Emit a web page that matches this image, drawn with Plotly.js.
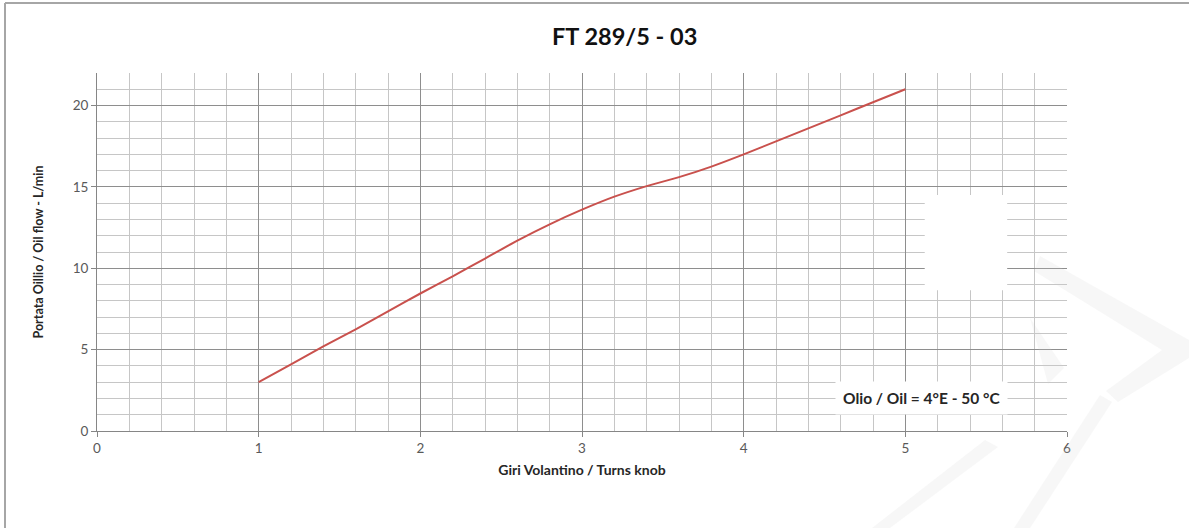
<!DOCTYPE html>
<html>
<head>
<meta charset="utf-8">
<script src="https://cdn.plot.ly/plotly-3.0.1.min.js"></script>
<style>html,body{margin:0;padding:0;background:#fff;}#chart{width:1189px;height:528px;}</style>
</head>
<body>
<div id="chart"></div>
<script>
// Data
const turns = [1, 1.2, 1.4, 1.6, 1.8, 2, 2.2, 2.4, 2.6, 2.8, 3, 3.2, 3.4, 3.6, 3.8, 4, 4.2, 4.4, 4.6, 4.8, 5];
const oilFlow = [3.0, 4.1, 5.2, 6.25, 7.35, 8.45, 9.5, 10.6, 11.7, 12.7, 13.6, 14.4, 15.05, 15.6, 16.25, 17.0, 17.8, 18.6, 19.4, 20.2, 21.0];
const xTicks = [0, 1, 2, 3, 4, 5, 6];
const yTicks = [0, 5, 10, 15, 20];

const chartTitle = 'FT 289/5 - 03';
const xTitle = 'Giri Volantino / Turns knob';
const yTitle = 'Portata Oillio / Oil flow - L/min';
const noteText = 'Olio / Oil = 4°E - 50 °C';

const trace = {
  x: turns, y: oilFlow, type: 'scatter', mode: 'lines',
  line: {color: '#c9514d', width: 2, shape: 'spline', smoothing: 0.8},
  hoverinfo: 'x+y', showlegend: false
};

const font = 'Lato, "Open Sans", "Liberation Sans", sans-serif';

// plot area geometry (pixels) used only to place decorative watermark / frame in paper units
const M = {l: 97, r: 122, t: 73, b: 97};
const W = 1189, H = 528;
const pw = W - M.l - M.r, ph = H - M.t - M.b;
const px = v => (v - M.l) / pw;
const py = v => (H - M.b - v) / ph;
const polyPath = pts => 'M ' + pts.map(p => px(p[0]).toFixed(4) + ',' + py(p[1]).toFixed(4)).join(' L ') + ' Z';

const wmFill = 'rgba(205,205,205,0.17)';
const watermark = [
  [[1040,256],[1189,340],[1189,358],[1118,402],[1106,391],[1162,350],[1034,271]],
  [[1100,395],[1112,402],[1030,528],[1014,528]],
  [[1030,318],[1064,368],[1048,384]],
  [[985,440],[998,447],[890,528],[872,528]]
].map(p => ({type: 'path', xref: 'paper', yref: 'paper', path: polyPath(p),
             fillcolor: wmFill, line: {width: 0}, layer: 'above'}));

const layout = {
  width: W, height: H,
  margin: M,
  paper_bgcolor: '#ffffff', plot_bgcolor: '#ffffff',
  font: {family: font, color: '#595959', size: 13},
  title: {text: '<b>' + chartTitle + '</b>', x: 0.544, xanchor: 'center', xref: 'paper',
          y: 0.93, yanchor: 'middle', yref: 'container',
          font: {family: font, size: 23.5, color: '#111111'}},
  xaxis: {
    range: [0, 6], tickvals: xTicks, ticktext: xTicks.map(String),
    showgrid: true, gridcolor: '#8e8e8e', gridwidth: 1,
    minor: {dtick: 0.2, tick0: 0, showgrid: true, gridcolor: '#c6c6c6', gridwidth: 1},
    showline: true, linecolor: '#868686', linewidth: 1,
    ticks: 'outside', ticklen: 5, tickcolor: '#868686',
    zeroline: false, fixedrange: true,
    tickfont: {family: font, size: 13.5, color: '#595959'},
    title: {text: '<b>' + xTitle + '</b>', standoff: 9, font: {family: font, size: 14, color: '#262626'}}
  },
  yaxis: {
    range: [0, 22], tickvals: yTicks, ticktext: yTicks.map(String),
    showgrid: true, gridcolor: '#8e8e8e', gridwidth: 1,
    minor: {dtick: 1, tick0: 0, showgrid: true, gridcolor: '#c6c6c6', gridwidth: 1},
    showline: true, linecolor: '#868686', linewidth: 1,
    ticks: 'outside', ticklen: 5, tickcolor: '#868686',
    zeroline: false, fixedrange: true,
    tickfont: {family: font, size: 13.5, color: '#595959'},
    title: {text: '<b>' + yTitle + '</b>', standoff: 26, font: {family: font, size: 12.5, color: '#262626'}}
  },
  shapes: [
    // white patch over grid (as in reference)
    {type: 'rect', xref: 'x', yref: 'y', x0: 5.12, x1: 5.63, y0: 8.65, y1: 14.5,
     fillcolor: '#ffffff', line: {width: 0}, layer: 'above'},
    // outer frame (top and left)
    {type: 'line', xref: 'paper', yref: 'paper', x0: px(5), x1: px(1189), y0: py(3), y1: py(3),
     line: {color: '#a6a6a6', width: 2}},
    {type: 'line', xref: 'paper', yref: 'paper', x0: px(5), x1: px(5), y0: py(3), y1: py(528),
     line: {color: '#a6a6a6', width: 2}}
  ].concat(watermark),
  annotations: [
    {text: '<b>' + noteText + '</b>', xref: 'x', yref: 'y', x: 5.1, y: 2.0,
     showarrow: false, bgcolor: '#ffffff', borderpad: 7,
     font: {family: font, size: 15.5, color: '#262626'}}
  ]
};

Plotly.newPlot('chart', [trace], layout, {displayModeBar: false, staticPlot: true});
</script>
</body>
</html>
